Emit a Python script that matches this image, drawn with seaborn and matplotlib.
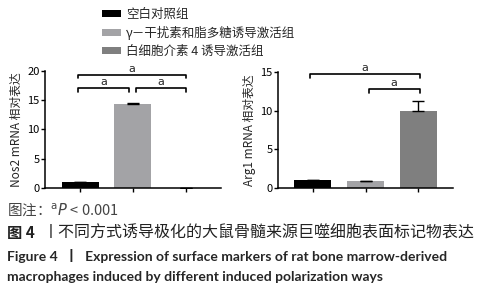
import matplotlib
matplotlib.use("Agg")
import matplotlib.pyplot as plt
import seaborn as sns
import pandas as pd
from matplotlib.patches import Patch

groups = ["空白对照组", "γ－干扰素和脂多糖诱导激活组", "白细胞介素 4 诱导激活组"]
colors = ["#000000", "#a3a3a6", "#7f7f7f"]
nos2_mean = [1.0, 14.3, 0.05]
nos2_err = [0.05, 0.15, 0.02]
arg1_mean = [1.0, 0.9, 10.0]
arg1_err = [0.05, 0.05, 1.3]

sns.set_theme(style="ticks")
plt.rcParams['font.family'] = ['Noto Sans CJK SC', 'DejaVu Sans']
plt.rcParams['mathtext.fontset'] = 'dejavusans'

fig = plt.figure(figsize=(4.8, 2.97), dpi=100)
ax1 = fig.add_axes([0.094, 0.367, 0.366, 0.394])
ax2 = fig.add_axes([0.579, 0.367, 0.365, 0.391])

def panel(ax, means, errs, ylim, yticks, ylabel, brackets):
    df = pd.DataFrame({"g": groups, "v": means})
    sns.barplot(data=df, x="g", y="v", hue="g", palette=colors, order=groups,
                hue_order=groups, errorbar=None, width=0.7, legend=False, ax=ax,
                saturation=1, linewidth=0)
    ax.errorbar(range(3), means, yerr=[[0]*3, errs], fmt="none", ecolor="black",
                elinewidth=1.0, capsize=4, capthick=1.0)
    ax.set_xlim(-0.66, 2.66)
    ax.set_ylim(*ylim)
    ax.set_yticks(yticks)
    ax.set_xticks(range(3))
    ax.set_xticklabels([])
    ax.set_xlabel("")
    ax.set_ylabel(ylabel, fontsize=8.5, labelpad=3)
    for s in ["top", "right"]:
        ax.spines[s].set_visible(False)
    for s in ["left", "bottom"]:
        ax.spines[s].set_linewidth(1.1)
        ax.spines[s].set_color("black")
    ax.tick_params(axis="both", length=3, width=1.0, labelsize=8, pad=1, colors="black")
    for (x0, x1, y, tip) in brackets:
        ax.plot([x0, x0, x1, x1], [y - tip, y, y, y - tip], color="black", lw=1.2,
                clip_on=False)
        ax.text((x0 + x1) / 2, y + tip * 0.3, "a", ha="center", va="bottom", fontsize=8,
                family="DejaVu Sans")

panel(ax1, nos2_mean, nos2_err, (0, 20), [0, 5, 10, 15, 20], "Nos2 mRNA 相对表达",
      [(-0.04, 0.93, 17.1, 0.75), (1.06, 2.0, 17.1, 0.75), (-0.04, 2.0, 19.3, 0.55)])
panel(ax2, arg1_mean, arg1_err, (0, 15), [0, 5, 10, 15], "Arg1 mRNA 相对表达",
      [(1.06, 2.03, 12.8, 0.55), (-0.06, 2.03, 14.7, 0.45)])

handles = [Patch(facecolor=c, edgecolor="none") for c in colors]
fig.legend(handles, groups, loc="upper left", bbox_to_anchor=(0.203, 0.99),
           frameon=False, fontsize=9, handlelength=1.5, handleheight=0.55,
           labelspacing=0.4, handletextpad=0.35, borderaxespad=0)

fig.text(0.015, 0.293, r"图注：$^{\mathrm{a}}\mathit{P}$ < 0.001", fontsize=10.5,
         color="#444444", va="center")
fig.text(0.015, 0.215, "图 4", fontsize=11, weight="bold", color="#222222", va="center")
fig.text(0.088, 0.215, "丨不同方式诱导极化的大鼠骨髓来源巨噬细胞表面标记物表达",
         fontsize=11.5, color="#222222", va="center")
fig.text(0.015, 0.138, "Figure 4  丨  Expression of surface markers of rat bone marrow-derived",
         fontsize=10, weight="bold", family=["Lato", "Noto Sans CJK SC"], va="center")
fig.text(0.015, 0.068, "macrophages induced by different induced polarization ways",
         fontsize=10, weight="bold", family=["Lato", "Noto Sans CJK SC"], va="center")

fig.savefig("out.png", dpi=100)
